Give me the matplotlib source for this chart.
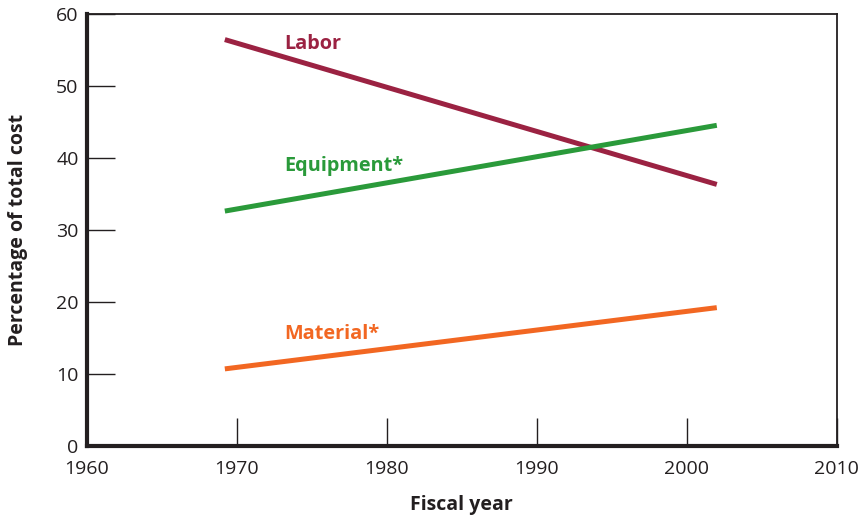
import matplotlib
matplotlib.use("Agg")
import matplotlib.pyplot as plt

plt.rcParams['font.family'] = ['Open Sans', 'DejaVu Sans']

years = [1969.2, 2002.0]
labor = [56.4, 36.3]
equipment = [32.6, 44.5]
material = [10.7, 19.2]

series = [
    ("Labor", labor, "#9B2242", 1973.15, 55.8),
    ("Equipment*", equipment, "#2A9A3A", 1973.15, 38.9),
    ("Material*", material, "#F26722", 1973.15, 15.5),
]

fig = plt.figure(figsize=(8.6, 5.19), dpi=100)
ax = fig.add_axes([0.101, 0.1407, 0.872, 0.833])

for name, vals, color, lx, ly in series:
    ax.plot(years, vals, color=color, lw=3.6, solid_capstyle='butt')
    ax.text(lx, ly, name, color=color, fontsize=14.3, fontweight='bold',
            ha='left', va='center')

ax.set_xlim(1960, 2010)
ax.set_ylim(0, 60)
ax.set_xticks([1960, 1970, 1980, 1990, 2000, 2010])
ax.set_yticks([0, 10, 20, 30, 40, 50, 60])
ax.tick_params(axis='both', direction='in', length=20, width=1.0,
               labelsize=14, colors='#231F20', pad=6)
ax.tick_params(axis='x', pad=10)
for s in ['left', 'bottom']:
    ax.spines[s].set_linewidth(3.0)
for s in ['top', 'right']:
    ax.spines[s].set_linewidth(1.3)
for s in ax.spines.values():
    s.set_color('#231F20')

ax.set_xlabel("Fiscal year", fontsize=14, fontweight='bold', color='#231F20', labelpad=12)
ax.set_ylabel("Percentage of total cost", fontsize=14, fontweight='bold', color='#231F20', labelpad=20)

fig.savefig("out.png", dpi=100)
